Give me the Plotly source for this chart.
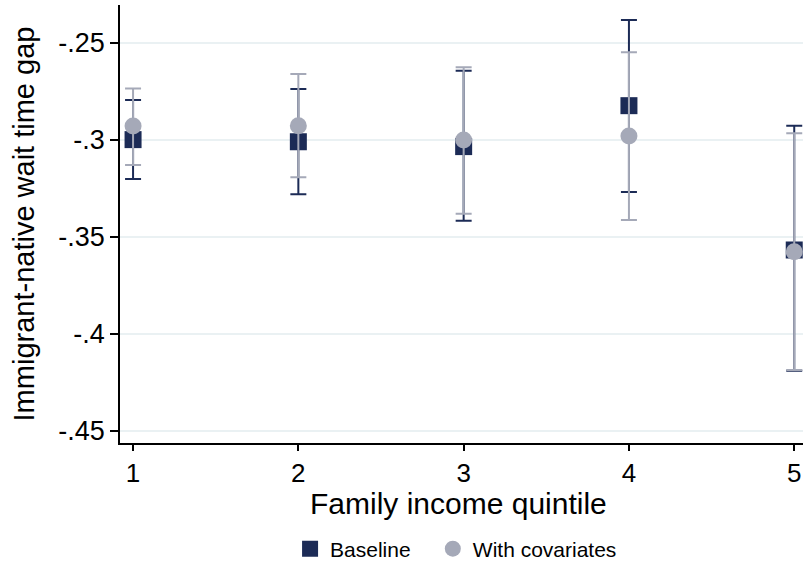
import plotly.graph_objects as go

quintiles = [1, 2, 3, 4, 5]

base_est = [-0.2998, -0.3009, -0.3034, -0.2823, -0.3567]
base_lo = [-0.3201, -0.3280, -0.3416, -0.3268, -0.4190]
base_hi = [-0.2794, -0.2737, -0.2643, -0.2381, -0.2926]

cov_est = [-0.2928, -0.2926, -0.3000, -0.2979, -0.3576]
cov_lo = [-0.3129, -0.3192, -0.3380, -0.3412, -0.4186]
cov_hi = [-0.2734, -0.2660, -0.2625, -0.2548, -0.2965]

y_ticks = [-0.25, -0.3, -0.35, -0.4, -0.45]
y_tick_labels = ["-.25", "-.3", "-.35", "-.4", "-.45"]

x_title = "Family income quintile"
y_title = "Immigrant-native wait time gap"

NAVY = "#1c2b56"
GRAY = "#a5a9b8"

def err(est, lo, hi, color):
    return dict(
        type="data", symmetric=False,
        array=[h - e for h, e in zip(hi, est)],
        arrayminus=[e - l for e, l in zip(est, lo)],
        color=color, thickness=2, width=8,
    )

fig = go.Figure()
fig.add_trace(go.Scatter(
    x=quintiles, y=base_est, mode="markers", name="Baseline",
    marker=dict(symbol="square", size=17, color=NAVY),
    error_y=err(base_est, base_lo, base_hi, NAVY),
    cliponaxis=False, legend="legend",
))
fig.add_trace(go.Scatter(
    x=quintiles, y=cov_est, mode="markers", name="With covariates",
    marker=dict(symbol="circle", size=17, color=GRAY),
    error_y=err(cov_est, cov_lo, cov_hi, GRAY),
    cliponaxis=False, legend="legend2",
))

leg_common = dict(orientation="h", xanchor="left", xref="paper",
                  y=-0.242, yanchor="middle", font=dict(size=21),
                  itemsizing="trace", bgcolor="rgba(0,0,0,0)")

fig.update_layout(
    width=803, height=562,
    margin=dict(l=120, r=0, t=5, b=119, autoexpand=False),
    paper_bgcolor="white", plot_bgcolor="white",
    font=dict(family="Liberation Sans, Arial, sans-serif", color="black"),
    showlegend=True,
    legend=dict(x=0.249, **leg_common),
    legend2=dict(x=0.458, **leg_common),
    xaxis=dict(
        range=[0.921, 5.053], tickmode="array", tickvals=quintiles,
        ticktext=[str(q) for q in quintiles], automargin=False,
        showgrid=False, zeroline=False,
        showline=True, linecolor="black", linewidth=1.5,
        ticks="outside", ticklen=6, tickwidth=1.5, tickcolor="black",
        tickfont=dict(size=26),
    ),
    yaxis=dict(
        range=[-0.4562, -0.2304], tickmode="array", tickvals=y_ticks,
        ticktext=y_tick_labels, automargin=False,
        showgrid=True, gridcolor="#eaf1f3", gridwidth=2, zeroline=False,
        showline=True, linecolor="black", linewidth=1.5,
        ticks="outside", ticklen=8, tickwidth=1.5, tickcolor="black",
        tickfont=dict(size=27),
        title=dict(text=y_title, font=dict(size=29), standoff=15),
    ),
    annotations=[dict(
        text=x_title, xref="paper", yref="paper", x=0.495, y=-0.139,
        xanchor="center", yanchor="middle", showarrow=False,
        font=dict(size=30, color="black"),
    )],
)

fig.write_html("out.html", config={"displayModeBar": False},
               post_script="document.body.style.margin='0';")
